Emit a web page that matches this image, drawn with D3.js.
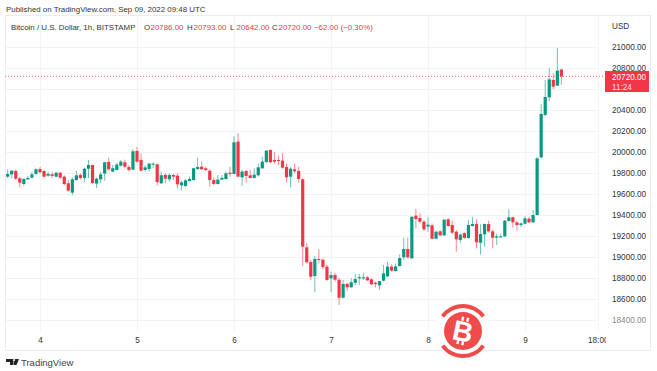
<!DOCTYPE html>
<html>
<head>
<meta charset="utf-8">
<script src="https://d3js.org/d3.v7.min.js"></script>
<style>
  html, body { margin: 0; padding: 0; background: #fff; }
  svg { display: block; }
  text { font-family: "Liberation Sans", sans-serif; fill: #333; }
</style>
</head>
<body>
<svg width="657" height="371"></svg>
<script>
// hourly candles, first bar is Sep 03 16:00 UTC
const opens = [
  19765,19787,19819,19749,19695,19740,19756,19791,19838,19819,
  19775,19787,19765,19803,19765,19702,19613,19733,19781,19753,
  19841,19876,19699,19740,19794,19905,19813,19829,19870,19902,
  19857,19832,20010,19924,19829,19838,19880,19883,19702,19781,
  19740,19781,19775,19683,19676,19724,19733,19838,19860,19845,
  19822,19733,19695,19737,19743,19803,19791,20099,19759,19819,
  19778,19753,19778,19845,19905,20019,19924,19924,19918,19857,
  19765,19835,19819,19740,19092,18952,18819,18981,18974,18908,
  18797,18828,18784,18612,18743,18711,18755,18797,18797,18806,
  18787,18755,18730,18774,18816,18908,18866,18914,18997,19076,
  18987,19394,19371,19336,19289,19301,19174,19244,19206,19359,
  19305,19241,19162,19228,19181,19295,19314,19136,19216,19314,
  19244,19184,19190,19197,19343,19378,19330,19305,19317,19365,
  19330,19400,19949,20353,20521,20686,20632,20786
];
const highs = [
  19835,19829,19829,19765,19749,19772,19813,19845,19857,19829,
  19813,19807,19807,19807,19778,19733,19759,19822,19797,19851,
  19924,19880,19759,19813,19908,19946,19876,19899,19924,19927,
  19876,20026,20048,19987,19876,19899,19902,19889,19813,19797,
  19797,19791,19797,19724,19740,19765,19851,19946,19908,19860,
  19835,19759,19781,19781,19813,19860,20153,20178,19829,19829,
  19829,19845,19892,19956,20019,20026,20003,19965,19987,19892,
  19857,19892,19860,19749,19130,18971,19009,19076,18987,18924,
  18860,18851,18797,18781,18755,18797,18838,18838,18847,18819,
  18797,18765,18771,18924,18955,18930,18940,19025,19184,19184,
  19384,19457,19416,19352,19378,19320,19251,19257,19362,19368,
  19346,19257,19225,19235,19352,19384,19359,19311,19320,19346,
  19263,19225,19225,19352,19454,19384,19346,19330,19390,19384,
  19448,19949,20454,20686,20797,20749,20988,20793
];
const lows = [
  19749,19749,19733,19660,19680,19733,19746,19781,19797,19759,
  19765,19749,19759,19746,19683,19622,19587,19727,19740,19711,
  19749,19695,19657,19702,19727,19822,19807,19822,19860,19845,
  19813,19829,19892,19813,19813,19813,19845,19680,19695,19702,
  19718,19733,19654,19632,19670,19718,19727,19829,19829,19819,
  19670,19686,19689,19733,19733,19765,19784,19759,19676,19708,
  19749,19746,19765,19838,19892,19895,19892,19876,19841,19711,
  19664,19797,19708,18914,18939,18781,18663,18939,18882,18774,
  18663,18765,18543,18606,18679,18708,18733,18733,18781,18771,
  18733,18711,18686,18768,18812,18860,18860,18908,18971,18987,
  18987,19273,19320,19247,19241,19168,19168,19200,19200,19289,
  19219,19051,19136,19174,19174,19289,19082,19022,19098,19232,
  19082,19114,19178,19190,19336,19282,19251,19282,19311,19324,
  19324,19395,19940,20343,20486,20597,20629,20642
];
const closes = [
  19791,19822,19746,19708,19743,19753,19787,19835,19807,19765,
  19791,19772,19803,19756,19695,19632,19740,19778,19753,19841,
  19876,19705,19746,19787,19902,19835,19845,19880,19908,19860,
  19829,20007,19908,19822,19854,19889,19889,19714,19778,19746,
  19781,19765,19692,19711,19730,19743,19845,19857,19835,19829,
  19733,19695,19737,19753,19797,19791,20092,19765,19813,19772,
  19753,19784,19854,19908,20013,19902,19908,19918,19851,19759,
  19841,19816,19743,19098,18949,18812,18981,18978,18905,18781,
  18828,18784,18612,18743,18711,18759,18790,18809,18806,18778,
  18740,18743,18771,18844,18908,18870,18911,18990,19076,18997,
  19384,19362,19336,19263,19308,19174,19241,19206,19355,19295,
  19232,19168,19213,19181,19305,19314,19140,19219,19314,19244,
  19184,19197,19197,19346,19378,19330,19305,19320,19368,19330,
  19400,19940,20362,20524,20692,20622,20775,20720
];
const priceTicks = [18400,18600,18800,19000,19200,19400,19600,19800,20000,20200,20400,20600,20800,21000];
// the 20600 label sits behind the last price tag
const priceLabels = priceTicks.filter(d => d !== 20600);
const timeTicks = ["2022-09-04T00:00Z","2022-09-05T00:00Z","2022-09-06T00:00Z","2022-09-07T00:00Z","2022-09-08T00:00Z","2022-09-09T00:00Z","2022-09-09T18:00Z"].map(d => new Date(d));
const timeLabels = ["4","5","6","7","8","9","18:00"];
const firstBar = new Date("2022-09-03T16:00Z");
const lastPrice = 20720;
const upColor = "#089981", downColor = "#f23645";
const font = '"Liberation Sans", sans-serif';

const svg = d3.select("svg");
const x = d3.scaleTime()
  .domain([timeTicks[0], timeTicks[5]])
  .range([40, 525]);
const y = d3.scaleLinear()
  .domain([18400, 21000])
  .range([320, 47]);
const bars = opens.map((o, i) => ({
  t: d3.utcHour.offset(firstBar, i), o, h: highs[i], l: lows[i], c: closes[i]
}));

svg.append("defs").append("clipPath").attr("id", "timeClip")
  .append("rect").attr("x", 5).attr("y", -5).attr("width", 601).attr("height", 20);

// gridlines
const grid = svg.append("g").attr("stroke", "#f2f3f7").attr("shape-rendering", "crispEdges");
grid.selectAll(".h").data(priceTicks).enter().append("line")
  .attr("x1", 5).attr("x2", 598).attr("y1", d => Math.round(y(d))).attr("y2", d => Math.round(y(d)));
grid.selectAll(".v").data(timeTicks).enter().append("line")
  .attr("x1", d => Math.round(x(d))).attr("x2", d => Math.round(x(d))).attr("y1", 15).attr("y2", 331);

// frame
svg.append("rect").attr("x", 5.5).attr("y", 15.5).attr("width", 645).attr("height", 335)
  .attr("fill", "none").attr("stroke", "#ebecf0");

// axes
const yAxis = d3.axisRight(y).tickValues(priceLabels).tickFormat(d => d3.format(".2f")(d)).tickSize(0).tickPadding(0);
const yg = svg.append("g").attr("transform", "translate(612,0)").call(yAxis);
yg.select(".domain").remove();
yg.selectAll("text").attr("font-size", 8.2).style("font-family", font).style("fill", "#333");
yg.selectAll(".tick").filter(d => d === 18400).select("text").style("fill", "#888");

const xAxis = d3.axisBottom(x).tickValues(timeTicks).tickFormat((d, i) => timeLabels[i]).tickSize(0).tickPadding(0);
const xg = svg.append("g").attr("transform", "translate(0,337)").attr("clip-path", "url(#timeClip)").call(xAxis);
xg.select(".domain").remove();
xg.selectAll("text").attr("font-size", 8.2).style("font-family", font).style("fill", "#333");

// candles
const candles = svg.append("g").selectAll("g").data(bars).enter().append("g");
candles.append("line")
  .attr("x1", d => x(d.t)).attr("x2", d => x(d.t))
  .attr("y1", d => y(d.h)).attr("y2", d => y(d.l))
  .attr("stroke", d => d.c >= d.o ? upColor : downColor)
  .attr("stroke-opacity", 0.6);
candles.append("rect")
  .attr("x", d => x(d.t) - 1.6).attr("width", 3.2)
  .attr("y", d => y(Math.max(d.o, d.c)))
  .attr("height", d => Math.max(1, Math.abs(y(d.o) - y(d.c))))
  .attr("fill", d => d.c >= d.o ? upColor : downColor);

// last price line and tag
svg.append("line").attr("x1", 5).attr("x2", 606)
  .attr("y1", y(lastPrice)).attr("y2", y(lastPrice))
  .attr("stroke", downColor).attr("stroke-opacity", 0.7).attr("stroke-dasharray", "1 2");
svg.append("rect").attr("x", 605).attr("y", 71).attr("width", 44).attr("height", 21).attr("fill", downColor);
svg.append("text").attr("x", 612).attr("y", 80).attr("font-size", 8.2).style("fill", "#fff").text("20720.00");
svg.append("text").attr("x", 612).attr("y", 90).attr("font-size", 8.2).style("fill", "#fde0e3").text("11:24");
svg.append("text").attr("x", 612).attr("y", 29).attr("font-size", 8.2).text("USD");

// headers
const headSize = 7.9;
svg.append("text").attr("x", 6).attr("y", 12).attr("font-size", headSize).text("Published on TradingView.com, Sep 09, 2022 09:48 UTC");
const legendY = 30;
svg.append("text").attr("x", 11).attr("y", legendY).attr("font-size", headSize).text("Bitcoin / U.S. Dollar, 1h, BITSTAMP");
const ohlc = [["O", 144, "20786.00"], ["H", 187, "20793.00"], ["L", 230, "20642.00"], ["C", 272, "20720.00"]];
ohlc.forEach(([k, px, v]) => {
  svg.append("text").attr("x", px).attr("y", legendY).attr("font-size", headSize).text(k);
  svg.append("text").attr("x", px + 6.5).attr("y", legendY).attr("font-size", headSize).style("fill", downColor).text(v);
});
svg.append("text").attr("x", 314).attr("y", legendY).attr("font-size", headSize).style("fill", downColor).text("−62.00 (−0.30%)");

// TradingView mark
svg.append("path").attr("d", "M6 359h7v6h-3v-3h-4zM13.5 359h5.5l-2.5 6h-3zM14 359a1 1 0 1 0 .1 0z").attr("fill", "#222");
svg.append("text").attr("x", 21).attr("y", 365.5).attr("font-size", 9.5).style("fill", "#444").text("TradingView");

// watermark
const logoRed = "#ef4b4b";
const logo = svg.append("g").attr("transform", "translate(463,331)");
logo.append("circle").attr("r", 28).attr("fill", "#fff");
logo.append("circle").attr("r", 19).attr("fill", logoRed);
const arc = d3.arc().innerRadius(23).outerRadius(27);
logo.append("path").attr("d", arc({ startAngle: -0.95, endAngle: 0.95 })).attr("fill", logoRed);
logo.append("path").attr("d", arc({ startAngle: Math.PI - 0.95, endAngle: Math.PI + 0.95 })).attr("fill", logoRed);
const mark = logo.append("g").attr("transform", "rotate(12)");
mark.append("text").attr("text-anchor", "middle").attr("y", 10)
  .attr("font-size", 28).attr("font-weight", "bold").style("fill", "#fff").style("font-family", font).text("B");
[-4, 1].forEach(dx => {
  mark.append("rect").attr("x", dx).attr("y", -14).attr("width", 2.4).attr("height", 4).attr("fill", "#fff");
  mark.append("rect").attr("x", dx).attr("y", 10).attr("width", 2.4).attr("height", 4).attr("fill", "#fff");
});
</script>
</body>
</html>
